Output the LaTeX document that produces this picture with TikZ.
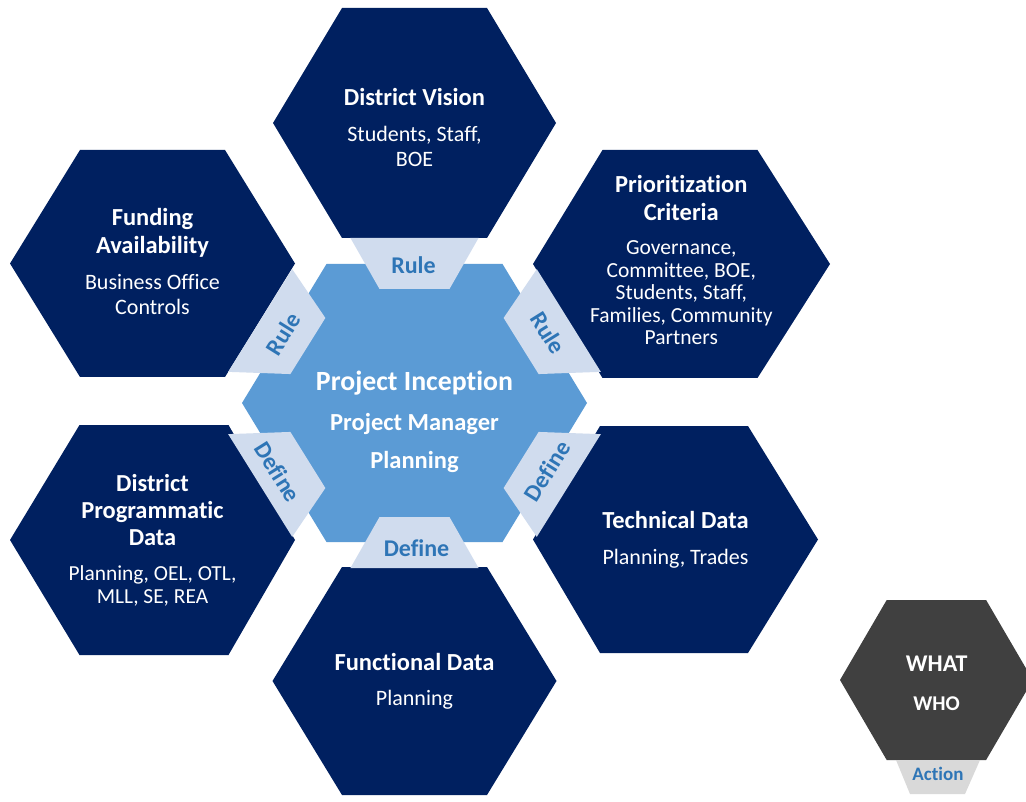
\documentclass[tikz,border=0pt]{standalone}
\usepackage{fontspec}
\setmainfont{Carlito}[Ligatures=NoCommon]
% centred stack of lines whose baseline is the first line's baseline
\newcommand{\hexlines}[1]{\begin{tabular}[t]{@{}c@{}}#1\end{tabular}}
\definecolor{hexnavy}{HTML}{002060}
\definecolor{hexcore}{HTML}{5B9BD5}
\definecolor{tabblue}{HTML}{D0DCEE}
\definecolor{tabtext}{HTML}{2E75B6}
\definecolor{legendgray}{HTML}{404040}
\definecolor{legendtab}{HTML}{D9D9D9}

\begin{document}
\begin{tikzpicture}[x=1pt,y=-1pt,
  outerhex/.style={fill=hexnavy},
  corehex/.style={fill=hexcore},
  tabshape/.style={fill=tabblue},
  txt/.style={text=white, inner sep=0pt, anchor=base, align=center},
  title/.style={txt, font=\bfseries\fontsize{24.5}{27.5}\selectfont},
  subtitle/.style={txt, font=\fontsize{22}{25}\selectfont},
  tablabel/.style={text=tabtext, inner sep=0pt, font=\bfseries\fontsize{24}{28}\selectfont},
]
\useasboundingbox (0,0) rectangle (1026,802);
\fill[white] (0,0) rectangle (1026,802);

% ---------- central hexagon ----------
\fill[corehex] (242,403) -- (326.5,264) -- (502.5,264) -- (587,403)
  -- (502.5,542) -- (326.5,542) -- cycle;

% ---------- surrounding hexagons ----------
\fill[outerhex, shift={(414.5,123)}]  % District Vision
  (-141.5,0) -- (-72.5,-115) -- (72.5,-115) -- (141.5,0) -- (72.5,115) -- (-72.5,115) -- cycle;
\fill[outerhex, shift={(152.5,263.5)}]  % Funding Availability
  (-142.5,0) -- (-72.5,-113.5) -- (72.5,-113.5) -- (142.5,0) -- (72.5,113.5) -- (-72.5,113.5) -- cycle;
\fill[outerhex, shift={(681.5,264)}]  % Prioritization Criteria
  (-148.5,0) -- (-79,-114) -- (76,-114) -- (148.5,0) -- (76,114) -- (-79,114) -- cycle;
\fill[outerhex, shift={(152.5,540)}]  % District Programmatic Data
  (-142.5,0) -- (-73,-115) -- (76,-115) -- (142.5,0) -- (76,115) -- (-73,115) -- cycle;
\fill[outerhex, shift={(675.5,539.5)}]  % Technical Data
  (-142.5,0) -- (-75.5,-113.5) -- (72.5,-113.5) -- (142.5,0) -- (72.5,113.5) -- (-75.5,113.5) -- cycle;
\fill[outerhex, shift={(414.5,681)}]  % Functional Data
  (-142,0) -- (-72.5,-114) -- (72.5,-114) -- (142,0) -- (72.5,114) -- (-72.5,114) -- cycle;

% ---------- link tabs between the centre and each hexagon ----------
\begin{scope}[shift={(414.5,403)}, xscale=1.08]
  \foreach \a in {0,60,-60,120,-120,180}
    \fill[tabshape, rotate=\a] (-59.3,-165) -- (59.3,-165) -- (32.4,-114) -- (-32.4,-114) -- cycle;
\end{scope}

\node[tablabel] (ruleTop) at (413.5,265) {Rule};
\node[tablabel, rotate=58] (ruleLeft) at (283,334) {Rule};
\node[tablabel, rotate=-58] (ruleRight) at (548,333) {Rule};
\node[tablabel, rotate=-58] (defineLeft) at (278,472) {Define};
\node[tablabel, rotate=58] (defineRight) at (547,471) {Define};
\node[tablabel] (defineBottom) at (416.5,548) {Define};

% ---------- texts ----------
\node[txt, font=\bfseries\fontsize{27.8}{32}\selectfont] (coreTitle) at (414.5,390.7) {Project Inception};
\node[txt, font=\bfseries\fontsize{24.5}{28}\selectfont] (coreWho) at (414.5,430) {Project Manager};
\node[txt, font=\bfseries\fontsize{24.5}{28}\selectfont] (coreAct) at (414.5,468.3) {Planning};

\node[title] (visionTitle) at (414.5,106) {District Vision};
\node[subtitle] (visionSub) at (414.5,142) {\hexlines{Students, Staff,\\BOE}};

\node[title] (fundTitle) at (152.5,226) {\hexlines{Funding\\Availability}};
\node[subtitle] (fundSub) at (152.5,290) {\hexlines{Business Office\\Controls}};

\node[txt, font=\bfseries\fontsize{24.5}{27.7}\selectfont] (prioTitle) at (681.3,193) {\hexlines{Prioritization\\Criteria}};
\node[txt, font=\fontsize{21.5}{22.4}\selectfont] (prioSub) at (681.3,255)
  {\hexlines{Governance,\\Committee, BOE,\\Students, Staff,\\Families, Community\\Partners}};

\node[txt, font=\bfseries\fontsize{24.4}{26.7}\selectfont] (progTitle) at (152.5,491.7) {\hexlines{District\\Programmatic\\Data}};
\node[txt, font=\fontsize{21.4}{22.7}\selectfont] (progSub) at (152.5,580.7) {\hexlines{Planning, OEL, OTL,\\MLL, SE, REA}};

\node[title] (techTitle) at (675.5,528.3) {Technical Data};
\node[subtitle] (techSub) at (675.5,564) {Planning, Trades};

\node[title] (funcTitle) at (414.5,670.7) {Functional Data};
\node[subtitle] (funcSub) at (414.5,705.7) {Planning};

% ---------- legend ----------
\fill[fill=legendgray, shift={(936.4,680)}]
  (-96.4,0) -- (-49.7,-80) -- (49.7,-80) -- (96.4,0) -- (49.7,80) -- (-49.7,80) -- cycle;
\fill[fill=legendtab] (896,760) -- (980,760) -- (965,794) -- (910,794) -- cycle;
\node[txt, font=\bfseries\fontsize{24}{28}\selectfont] (legWhat) at (936.7,671.7) {WHAT};
\node[txt, font=\bfseries\fontsize{21}{25}\selectfont] (legWho) at (936.5,710) {WHO};
\node[tablabel, anchor=base, font=\bfseries\fontsize{19}{22}\selectfont] (legAction) at (938,780) {Action};
\end{tikzpicture}
\end{document}
